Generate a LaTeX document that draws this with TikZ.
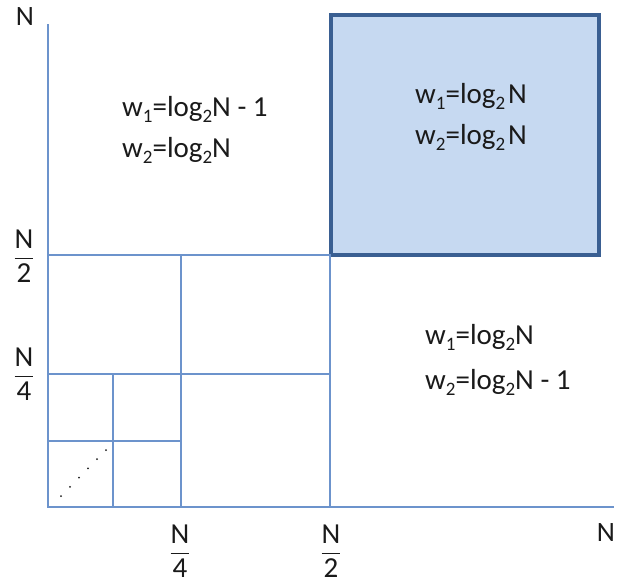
\documentclass[tikz,border=0pt]{standalone}
\usepackage{amsmath}
\usepackage{graphicx}
\usepackage{fontspec}
\usetikzlibrary{calc}
\setmainfont{Carlito}
\definecolor{gridblue}{HTML}{6C93CC}
\definecolor{boxedge}{HTML}{3A5F92}
\definecolor{boxfill}{HTML}{C6D9F1}
\definecolor{txt}{HTML}{1A1A1A}
\newcommand{\wsubx}[1]{\raisebox{-6pt}{\fontsize{19}{19}\selectfont #1}}
\newcommand{\lsubx}[1]{\raisebox{-6pt}{\fontsize{19}{19}\selectfont #1}}
\begin{document}
\begin{tikzpicture}[x=1pt,y=-1pt,
  gridline/.style={draw=gridblue,line width=1.6pt},
  lbl/.style={text=txt,font=\fontsize{28}{32}\selectfont,inner sep=0pt},
  frac/.style={text=txt,font=\fontsize{29}{33}\selectfont,inner sep=0pt},
  wtext/.style={text=txt,font=\fontsize{29}{33}\selectfont,anchor=base west,inner sep=0pt}]
\useasboundingbox (0,0) rectangle (619,587);
% box
\node[draw=boxedge,fill=boxfill,line width=3.6pt,minimum width=268pt,minimum height=240pt,inner sep=0pt] (box) at (465,135) {};
% axes
\coordinate (o) at (48,507);
\coordinate (ytop) at (48,24);
\coordinate (xend) at (614,507);
\draw[gridline] (ytop) -- (o) -- (xend);
% grid
\coordinate (a1) at (48,255);
\coordinate (a2) at (330,255);
\coordinate (a3) at (330,507);
\coordinate (b1) at (181,255);
\coordinate (b2) at (181,507);
\coordinate (c1) at (48,374);
\coordinate (c2) at (330,374);
\coordinate (d1) at (113,374);
\coordinate (d2) at (113,507);
\coordinate (e1) at (48,441);
\coordinate (e2) at (181,441);
\draw[gridline] (a1) -- (a2) -- (a3);
\draw[gridline] (b1) -- (b2);
\draw[gridline] (c1) -- (c2);
\draw[gridline] (d1) -- (d2);
\draw[gridline] (e1) -- (e2);
% dots
\coordinate (p1) at (61,496);
\coordinate (p2) at (106,450);
\foreach \i in {0,...,5} {
  \fill[txt] ($(p1)!\i/5!(p2)$) circle (1pt);
}
% axis labels
\node[lbl] (ny) at (25,17) {N};
\node[lbl] (nx) at (606,533) {N};
\node[frac] (fy2) at (24,256) {$\dfrac{\mbox{N}}{\mbox{2}}$};
\node[frac] (fy4) at (24,374) {$\dfrac{\mbox{N}}{\mbox{4}}$};
\node[frac] (fx4) at (180,551) {$\dfrac{\mbox{N}}{\mbox{4}}$};
\node[frac] (fx2) at (331,551) {$\dfrac{\mbox{N}}{\mbox{2}}$};
% weight texts
\node[wtext] (t1a) at (122,116) {w\wsubx{1}=log\lsubx{2}N - 1};
\node[wtext] (t1b) at (122,157) {w\wsubx{2}=log\lsubx{2}N};
\node[wtext] (t2a) at (415,103) {w\wsubx{1}=log\lsubx{2}\hspace{3pt}N};
\node[wtext] (t2b) at (415,144) {w\wsubx{2}=log\lsubx{2}\hspace{3pt}N};
\node[wtext] (t3a) at (425,344) {w\wsubx{1}=log\lsubx{2}N};
\node[wtext] (t3b) at (425,389) {w\wsubx{2}=log\lsubx{2}N - 1};
\end{tikzpicture}
\end{document}
